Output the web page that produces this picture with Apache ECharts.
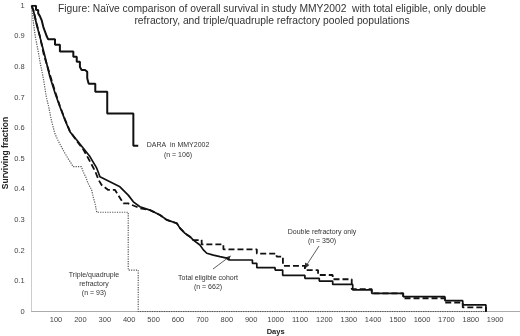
<!DOCTYPE html>
<html>
<head>
<meta charset="utf-8">
<script src="https://cdn.jsdelivr.net/npm/echarts@6/dist/echarts.min.js"></script>
<style>
  html, body { margin: 0; padding: 0; background: #fff; }
  #chart { width: 520px; height: 336px; }
</style>
</head>
<body>
<div id="chart"></div>
<script>
// tick labels
const xTicks = [100, 200, 300, 400, 500, 600, 700, 800, 900, 1000, 1100, 1200, 1300, 1400, 1500, 1600, 1700, 1800, 1900];
const yTicks = [0, 0.1, 0.2, 0.3, 0.4, 0.5, 0.6, 0.7, 0.8, 0.9, 1];

// DARA in MMY2002 (n = 106)
const daraDays = [0, 18, 27, 34, 41, 48, 55, 62, 68, 96, 116, 171, 185, 198, 205, 219, 228, 234, 261, 310, 417, 437];
const daraSurv = [1, 0.986, 0.975, 0.966, 0.953, 0.931, 0.915, 0.9, 0.89, 0.872, 0.85, 0.833, 0.817, 0.8, 0.79, 0.784, 0.763, 0.745, 0.719, 0.648, 0.542, 0.542];

// Total eligible cohort (n = 662)
const totalDays = [0, 7, 21, 34, 55, 75, 96, 116, 137, 157, 185, 212, 239, 267, 280, 321, 362, 396, 417, 444, 485, 526, 554, 595, 608, 629, 649, 663, 690, 704, 718, 745, 772, 800, 813, 905, 923, 998, 1029, 1120, 1179, 1234, 1316, 1394, 1523, 1694, 1767, 1862];
const totalSurv = [1, 0.986, 0.937, 0.899, 0.833, 0.768, 0.715, 0.67, 0.626, 0.588, 0.561, 0.534, 0.507, 0.469, 0.441, 0.425, 0.408, 0.381, 0.359, 0.343, 0.332, 0.316, 0.3, 0.289, 0.273, 0.256, 0.245, 0.234, 0.218, 0.202, 0.191, 0.185, 0.18, 0.175, 0.169, 0.158, 0.144, 0.136, 0.119, 0.109, 0.1, 0.089, 0.071, 0.06, 0.049, 0.036, 0.022, 0];

// Double refractory only (n = 350)
const doubleDays = [0, 7, 21, 34, 50, 75, 96, 116, 137, 157, 185, 212, 240, 260, 275, 287, 314, 342, 376, 396, 444, 485, 526, 554, 595, 608, 629, 649, 663, 697, 786, 923, 1004, 1030, 1120, 1174, 1234, 1312, 1394, 1523, 1694, 1767, 1862];
const doubleSurv = [1, 0.986, 0.94, 0.9, 0.84, 0.775, 0.72, 0.672, 0.628, 0.59, 0.558, 0.53, 0.49, 0.46, 0.43, 0.414, 0.398, 0.398, 0.354, 0.354, 0.338, 0.332, 0.316, 0.3, 0.289, 0.273, 0.256, 0.245, 0.234, 0.22, 0.204, 0.19, 0.18, 0.15, 0.136, 0.12, 0.106, 0.074, 0.06, 0.044, 0.03, 0.014, 0];

// Triple/quadruple refractory (n = 93)
const tripleDays = [0, 3, 6, 15, 26, 36, 47, 60, 70, 81, 95, 108, 122, 135, 149, 160, 170, 204, 211, 222, 231, 246, 252, 260, 267, 396, 437, 1862];
const tripleSurv = [1, 0.98, 0.953, 0.9, 0.855, 0.81, 0.768, 0.703, 0.67, 0.626, 0.583, 0.56, 0.539, 0.52, 0.501, 0.488, 0.474, 0.474, 0.458, 0.44, 0.42, 0.398, 0.376, 0.354, 0.325, 0.136, 0, 0];

// Dense early parts of the large cohorts read as a continuous slope,
// later events are drawn as Kaplan-Meier steps.
const kmPath = (days, surv, stepAfter) => {
  const pts = [];
  for (let i = 0; i < days.length; i++) {
    if (i > 0 && days[i] > stepAfter) pts.push([days[i], surv[i - 1]]);
    pts.push([days[i], surv[i]]);
  }
  return pts;
};

const font = "Liberation Sans, Arial, sans-serif";
const txt = (text, x, y, size, weight) => ({
  type: "text",
  style: {
    text: text, x: x, y: y, align: "center", verticalAlign: "middle",
    font: (weight || "normal") + " " + size + "px " + font, fill: "#333"
  }
});

const chart = echarts.init(document.getElementById("chart"));
chart.setOption({
  animation: false,
  grid: { left: 31.6, right: 0.4, top: 5.7, bottom: 24.3, containLabel: false, outerBoundsMode: "none" },
  xAxis: {
    type: "value", min: 0, max: 2000, interval: 100,
    name: "Days", nameLocation: "middle", nameGap: 16, nameMoveOverlap: false,
    nameTextStyle: { fontFamily: font, fontSize: 7.5, fontWeight: "bold", color: "#222" },
    axisLine: { lineStyle: { color: "#aaa", width: 1 } },
    axisTick: { show: false },
    splitLine: { show: false },
    axisLabel: {
      fontFamily: font, fontSize: 7.5, color: "#444", margin: 4,
      formatter: (v) => (xTicks.indexOf(v) >= 0 ? String(v) : "")
    }
  },
  yAxis: {
    type: "value", min: 0, max: 1, interval: 0.1,
    axisLine: { show: true, lineStyle: { color: "#ccc", width: 1 } },
    axisTick: { show: false },
    splitLine: { show: false },
    axisLabel: {
      fontFamily: font, fontSize: 7.5, color: "#444", margin: 7,
      formatter: (v) => {
        const t = yTicks.find((k) => Math.abs(k - v) < 1e-6);
        if (t === undefined) return "";
        return t === 0 || t === 1 ? String(t) : t.toFixed(1);
      }
    }
  },
  series: [
    {
      name: "Triple/quadruple refractory", type: "line", showSymbol: false,
      data: kmPath(tripleDays, tripleSurv, 267),
      lineStyle: { color: "#555", width: 1.2, type: [1.2, 1.2] }
    },
    {
      name: "Double refractory only", type: "line", showSymbol: false,
      data: kmPath(doubleDays, doubleSurv, 690),
      lineStyle: { color: "#111", width: 1.8, type: [6, 3] }
    },
    {
      name: "Total eligible cohort", type: "line", showSymbol: false,
      data: kmPath(totalDays, totalSurv, 813),
      lineStyle: { color: "#111", width: 1.7 }
    },
    {
      name: "DARA in MMY2002", type: "line", showSymbol: false,
      data: kmPath(daraDays, daraSurv, 0),
      lineStyle: { color: "#111", width: 2 }
    }
  ],
  graphic: [
    txt("Figure: Naïve comparison of overall survival in study MMY2002  with total eligible, only double", 272, 9, 10.3),
    txt("refractory, and triple/quadruple refractory pooled populations", 272, 21, 10.3),
    {
      type: "text", x: 6, y: 153, rotation: Math.PI / 2,
      style: {
        text: "Surviving fraction", align: "center", verticalAlign: "middle",
        font: "bold 8.5px " + font, fill: "#222"
      }
    },
    txt("DARA  in MMY2002", 178, 145, 7),
    txt("(n = 106)", 178, 155, 7),
    txt("Triple/quadruple", 94, 275, 7),
    txt("refractory", 94, 284, 7),
    txt("(n = 93)", 94, 293, 7),
    txt("Total eligible cohort", 208, 278, 7),
    txt("(n = 662)", 208, 287, 7),
    txt("Double refractory only", 322, 232, 7),
    txt("(n = 350)", 322, 241, 7),
    { type: "line", shape: { x1: 213, y1: 269, x2: 229, y2: 257 }, style: { stroke: "#333", lineWidth: 0.8 } },
    { type: "polygon", shape: { points: [[231, 255.5], [225.5, 257.5], [228.5, 261]] }, style: { fill: "#333" } },
    { type: "line", shape: { x1: 319, y1: 246, x2: 306, y2: 266 }, style: { stroke: "#333", lineWidth: 0.8 } },
    { type: "polygon", shape: { points: [[305, 268.5], [305, 262.5], [309.5, 265]] }, style: { fill: "#333" } }
  ]
});
</script>
</body>
</html>
